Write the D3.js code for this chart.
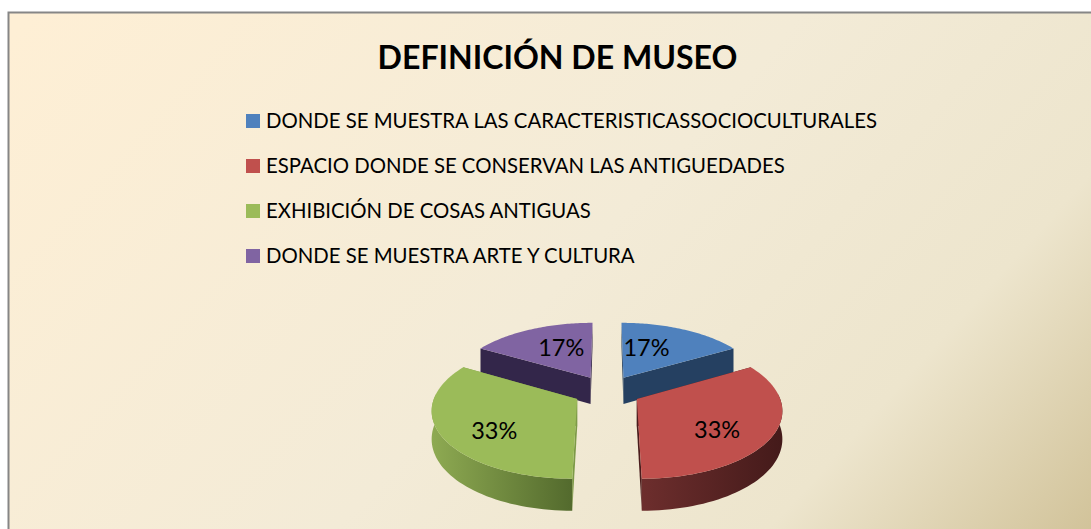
<!DOCTYPE html>
<html><head><meta charset="utf-8">
<script src="https://cdnjs.cloudflare.com/ajax/libs/d3/7.8.5/d3.min.js"></script>
<style>html,body{margin:0;padding:0;background:#fff;overflow:hidden}svg{display:block}</style>
</head><body><svg id="c" width="1091" height="529"></svg>
<script>
const title = "DEFINICIÓN DE MUSEO";
const categories = [
  "DONDE SE MUESTRA LAS CARACTERISTICASSOCIOCULTURALES",
  "ESPACIO DONDE SE CONSERVAN LAS ANTIGUEDADES",
  "EXHIBICIÓN DE COSAS ANTIGUAS",
  "DONDE SE MUESTRA ARTE Y CULTURA"
];
const values = [1, 2, 2, 1];
const topColors = ["#4f81bd", "#c0504d", "#9bbb59", "#8064a2"];
const wallColors = ["#254061", "#4a1c1c", "#7d9a47", "#33264a"];
const rimStart = ["#254061", "#6d2e2d", "#8eaa52", "#33264a"];
const rimEnd = ["#254061", "#441a1a", "#536a2d", "#33264a"];
const labelShift = [-10, 10, -10, 5];
const labelRadius = [0.55, 0.67, 0.69, 0.56];
const drawOrder = [3, 0, 2, 1];

const W = 1091, H = 529;
const svg = d3.select("#c");
const defs = svg.append("defs");
const bg = defs.append("linearGradient").attr("id", "bg").attr("gradientUnits", "userSpaceOnUse")
  .attr("x1", 150).attr("y1", -120).attr("x2", 1000).attr("y2", 650);
[[0, "#feefd5"], [0.5, "#f3ebd7"], [0.78, "#ede5cd"], [1, "#d0c197"]].forEach(([o, c]) =>
  bg.append("stop").attr("offset", o).attr("stop-color", c));

svg.append("rect").attr("x", 8.5).attr("y", 12.5).attr("width", W + 20).attr("height", H + 20)
  .attr("fill", "url(#bg)").attr("stroke", "#868686").attr("stroke-width", 2);

svg.append("text").attr("x", 557.5).attr("y", 69).attr("text-anchor", "middle")
  .attr("font-family", "Lato, Carlito, sans-serif").attr("font-weight", 700).attr("font-size", 32.05)
  .attr("fill", "#000").text(title);

const legendY = d3.scalePoint().domain(d3.range(categories.length)).range([121, 256]);
const lg = svg.append("g").selectAll("g").data(categories).join("g")
  .attr("transform", (d, i) => `translate(246,${legendY(i)})`);
lg.append("rect").attr("x", 0).attr("y", -7).attr("width", 14).attr("height", 14)
  .attr("fill", (d, i) => topColors[i]);
lg.append("text").attr("x", 20).attr("y", 6.5)
  .attr("font-family", "Lato, Carlito, sans-serif").attr("font-size", 20.35).attr("fill", "#000").text(d => d);

// tilted, perspective pie
const persp = 0.14, explode = 0.24, depth = 27;
const sx = d3.scaleLinear().domain([0, 1]).range([607, 748]);
const sy = d3.scaleLinear().domain([0, 1]).range([391, 457]);
const project = (X, Y, z = 0) => {
  const s = 1 / (1 - persp * Y);
  return [sx(X * s), sy(Y * s) + z * depth * s];
};
const arcs = d3.pie().sort(null).value(d => d)(values);
const total = d3.sum(values);
const pct = d3.format(".0%");
const line = d3.line();
const toRad = Math.PI / 180;

arcs.forEach((a, i) => {
  const g = defs.append("linearGradient").attr("id", "rim" + i);
  g.append("stop").attr("offset", 0).attr("stop-color", rimStart[i]);
  g.append("stop").attr("offset", 1).attr("stop-color", rimEnd[i]);
});

const pieG = svg.append("g");
drawOrder.forEach(i => {
  const a = arcs[i];
  const mid = (a.startAngle + a.endAngle) / 2;
  const ox = explode * Math.sin(mid), oy = -explode * Math.cos(mid);
  const pt = (ang, r, z) => project(ox + r * Math.sin(ang), oy - r * Math.cos(ang), z);
  const angs = d3.range(0, 61).map(k => a.startAngle + (a.endAngle - a.startAngle) * k / 60);
  const outer = z => angs.map(t => pt(t, 1, z));
  // walls
  [a.startAngle, a.endAngle].forEach(t => {
    pieG.append("path").attr("fill", wallColors[i])
      .attr("d", line([pt(t, 0, 0), pt(t, 1, 0), pt(t, 1, 1), pt(t, 0, 1)]) + "Z");
  });
  // rim: only the part facing the viewer
  const front = angs.filter(t => Math.cos(t) < 0.1);
  if (front.length) {
    const top = front.map(t => pt(t, 1, 0));
    const bot = front.map(t => pt(t, 1, 1)).reverse();
    pieG.append("path").attr("fill", `url(#rim${i})`).attr("d", line(top.concat(bot)) + "Z");
  }
  // top face
  pieG.append("path").attr("fill", topColors[i])
    .attr("d", line([pt(a.startAngle, 0, 0)].concat(outer(0))) + "Z");
  // label
  const la = mid + labelShift[i] * toRad;
  const p = pt(la, labelRadius[i], 0);
  pieG.append("text").attr("x", p[0]).attr("y", p[1] + 8).attr("text-anchor", "middle")
    .attr("font-family", "Lato, Carlito, sans-serif").attr("font-size", 23.5).attr("fill", "#000")
    .text(pct(values[i] / total));
});
</script></body></html>
